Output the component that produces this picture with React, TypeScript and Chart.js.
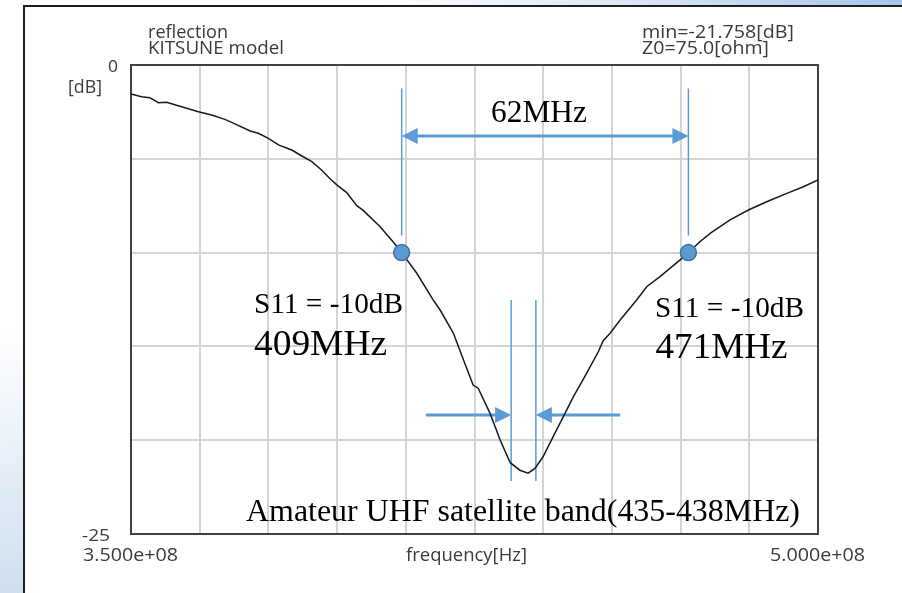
import { useEffect, useRef } from "react";
import { Chart, registerables } from "chart.js";

Chart.register(...registerables);

// ---- data (frequency in MHz, reflection S11 in dB) ----
const freqMHz = [
  350.0, 352.3, 354.1, 356.0, 357.8, 360.3, 364.7, 367.6, 370.5, 372.7,
  376.0, 377.8, 380.0, 382.2, 385.1, 387.3, 389.5, 391.6, 393.4, 395.0,
  397.1, 399.3, 400.7, 404.4, 407.3, 409.1, 412.4, 416.0, 417.5, 420.4,
  422.6, 424.7, 425.8, 428.4, 430.6, 432.8, 434.9, 436.7, 438.2, 440.0,
  442.2, 444.4, 446.6, 449.5, 452.0, 453.1, 454.6, 456.8, 460.4, 462.6,
  465.5, 469.9, 471.7, 474.2, 476.6, 480.8, 484.8, 488.8, 493.2, 496.8,
  500.0,
];
const s11dB = [
  -1.55, -1.69, -1.74, -2.01, -1.99, -2.17, -2.49, -2.67, -2.9, -3.14,
  -3.52, -3.64, -3.91, -4.26, -4.53, -4.85, -5.15, -5.6, -6.05, -6.4,
  -6.8, -7.5, -7.75, -8.62, -9.45, -10.0, -11.1, -12.53, -13.06, -14.3,
  -15.72, -17.06, -17.23, -18.57, -19.99, -21.2, -21.6, -21.758, -21.5, -20.87,
  -19.8, -18.74, -17.68, -16.43, -15.3, -14.7, -14.3, -13.59, -12.53, -11.82,
  -11.28, -10.39, -10.0, -9.42, -8.95, -8.26, -7.73, -7.29, -6.84, -6.49,
  -6.13,
];

// -10 dB crossing markers
const markerFreqMHz = [409.1, 471.7];
const markerDb = [-10, -10];

// bandwidth bracket (vertical guides + double arrow)
const bwGuideDb = [-1.25, -9.09];
const bwArrowDb = -3.78;

// satellite band guides
const bandEdgeMHz = [433.0, 438.4];
const bandGuideDb = [-12.53, -22.17];
const bandArrowDb = -18.66;
const bandArrowTailMHz = [414.4, 456.8];

// axes
const xGridMHz = [350, 365, 380, 395, 410, 425, 440, 455, 470, 485, 500];
const yGridDb = [0, -5, -10, -15, -20, -25];
const xEndLabels = ["3.500e+08", "5.000e+08"];
const yEndLabels = ["0", "-25"];
const xAxisTitle = "frequency[Hz]";
const yUnit = "[dB]";
const titleLeft = ["reflection", "KITSUNE model"];
const titleRight = ["min=-21.758[dB]", "Z0=75.0[ohm]"];
const bwLabel = "62MHz";
const leftLabels = ["S11 = -10dB", "409MHz"];
const rightLabels = ["S11 = -10dB", "471MHz"];
const bandLabel = "Amateur UHF satellite band(435-438MHz)";

const BLUE = "#5b9bd5";
const SANS = "'Open Sans'";
const SERIF = "'Liberation Serif'";

function fitText(
  ctx: CanvasRenderingContext2D,
  text: string,
  left: number,
  baseline: number,
  font: string,
  width: number,
  color: string
) {
  ctx.save();
  ctx.font = font;
  ctx.fillStyle = color;
  ctx.textAlign = "left";
  ctx.textBaseline = "alphabetic";
  const w = ctx.measureText(text).width;
  ctx.translate(left, baseline);
  ctx.scale(width / w, 1);
  ctx.fillText(text, 0, 0);
  ctx.restore();
}

function head(ctx: CanvasRenderingContext2D, tipX: number, y: number, dir: number) {
  const len = 16;
  const half = 8;
  ctx.beginPath();
  ctx.moveTo(tipX, y);
  ctx.lineTo(tipX - dir * len, y - half);
  ctx.lineTo(tipX - dir * len, y + half);
  ctx.closePath();
  ctx.fill();
}

const annotate = {
  id: "annotate",
  beforeDatasetsDraw(chart: any) {
    const { ctx, chartArea: a, scales } = chart;
    const x = scales.x;
    const y = scales.y;
    ctx.save();
    // frame
    ctx.strokeStyle = "#404040";
    ctx.lineWidth = 2;
    ctx.strokeRect(a.left, a.top, a.right - a.left, a.bottom - a.top);

    ctx.strokeStyle = BLUE;
    ctx.fillStyle = BLUE;
    // bandwidth guides
    ctx.lineWidth = 1.5;
    markerFreqMHz.forEach((f) => {
      const px = x.getPixelForValue(f * 1e6);
      ctx.beginPath();
      ctx.moveTo(px, y.getPixelForValue(bwGuideDb[0]));
      ctx.lineTo(px, y.getPixelForValue(bwGuideDb[1]));
      ctx.stroke();
    });
    // band guides
    bandEdgeMHz.forEach((f) => {
      const px = x.getPixelForValue(f * 1e6);
      ctx.beginPath();
      ctx.moveTo(px, y.getPixelForValue(bandGuideDb[0]));
      ctx.lineTo(px, y.getPixelForValue(bandGuideDb[1]));
      ctx.stroke();
    });
    // double arrow
    ctx.lineWidth = 3;
    const ay = y.getPixelForValue(bwArrowDb);
    const x1 = x.getPixelForValue(markerFreqMHz[0] * 1e6);
    const x2 = x.getPixelForValue(markerFreqMHz[1] * 1e6);
    ctx.beginPath();
    ctx.moveTo(x1 + 14, ay);
    ctx.lineTo(x2 - 14, ay);
    ctx.stroke();
    head(ctx, x1, ay, -1);
    head(ctx, x2, ay, 1);
    // band arrows
    const by = y.getPixelForValue(bandArrowDb);
    const l0 = x.getPixelForValue(bandArrowTailMHz[0] * 1e6);
    const l1 = x.getPixelForValue(bandEdgeMHz[0] * 1e6);
    ctx.beginPath();
    ctx.moveTo(l0, by);
    ctx.lineTo(l1 - 14, by);
    ctx.stroke();
    head(ctx, l1, by, 1);
    const r0 = x.getPixelForValue(bandArrowTailMHz[1] * 1e6);
    const r1 = x.getPixelForValue(bandEdgeMHz[1] * 1e6);
    ctx.beginPath();
    ctx.moveTo(r0, by);
    ctx.lineTo(r1 + 14, by);
    ctx.stroke();
    head(ctx, r1, by, -1);
    ctx.restore();
  },
  afterDatasetsDraw(chart: any) {
    const { ctx, chartArea: a, scales } = chart;
    const x = scales.x;
    const y = scales.y;
    const gray = "#3a3a3a";
    const f18 = `18px ${SANS}`;
    // header texts
    fitText(ctx, titleLeft[0], 148, 38, f18, 80, gray);
    fitText(ctx, titleLeft[1], 148, 54, f18, 136, gray);
    fitText(ctx, titleRight[0], 642, 38, f18, 152, gray);
    fitText(ctx, titleRight[1], 642, 54, f18, 127, gray);
    // y labels
    fitText(ctx, yEndLabels[0], a.left - 23, y.getPixelForValue(0) + 7, `17px ${SANS}`, 10, gray);
    fitText(ctx, yUnit, 68, 93, f18, 34, gray);
    fitText(ctx, yEndLabels[1], a.left - 49, y.getPixelForValue(-25) + 7, `17px ${SANS}`, 28, gray);
    // x labels
    const xl = x.getPixelForValue(350e6);
    const xr = x.getPixelForValue(500e6);
    fitText(ctx, xEndLabels[0], xl - 48, a.bottom + 27, f18, 95, gray);
    fitText(ctx, xEndLabels[1], xr - 48, a.bottom + 27, f18, 95, gray);
    fitText(ctx, xAxisTitle, 406, a.bottom + 27, f18, 121, gray);
    // annotations
    const black = "#000";
    fitText(ctx, bwLabel, 491, 121.5, `31px ${SERIF}`, 96, black);
    fitText(ctx, leftLabels[0], 254, 313, `29px ${SERIF}`, 149, black);
    fitText(ctx, leftLabels[1], 254, 354.5, `35px ${SERIF}`, 133, black);
    fitText(ctx, rightLabels[0], 655, 317, `29px ${SERIF}`, 149, black);
    fitText(ctx, rightLabels[1], 655.5, 358, `35px ${SERIF}`, 132, black);
    fitText(ctx, bandLabel, 246, 521, `31px ${SERIF}`, 554, black);
  },
};

export default function App() {
  const ref = useRef<HTMLCanvasElement>(null);
  useEffect(() => {
    const canvas = ref.current;
    if (!canvas) return;
    const chart = new Chart(canvas, {
      type: "line",
      data: {
        datasets: [
          {
            type: "line",
            data: freqMHz.map((f, i) => ({ x: f * 1e6, y: s11dB[i] })),
            borderColor: "#1a1a1a",
            borderWidth: 1.5,
            pointRadius: 0,
            tension: 0,
            fill: false,
            order: 2,
          },
          {
            type: "scatter",
            data: markerFreqMHz.map((f, i) => ({ x: f * 1e6, y: markerDb[i] })),
            pointRadius: 8,
            pointBackgroundColor: BLUE,
            pointBorderColor: "#41719c",
            pointBorderWidth: 1.5,
            showLine: false,
            order: 1,
          } as any,
        ],
      },
      options: {
        responsive: false,
        animation: false,
        devicePixelRatio: 1,
        events: [],
        layout: { padding: { left: 131, right: 84, top: 65, bottom: 59 } },
        plugins: { legend: { display: false }, tooltip: { enabled: false } },
        scales: {
          x: {
            type: "linear",
            min: 350e6,
            max: 500e6,
            afterBuildTicks: (s: any) => {
              s.ticks = xGridMHz.map((v) => ({ value: v * 1e6 }));
            },
            ticks: { display: false },
            grid: { color: "#d4d4d4", lineWidth: 2, drawTicks: false },
            border: { display: false },
          },
          y: {
            type: "linear",
            min: -25,
            max: 0,
            afterBuildTicks: (s: any) => {
              s.ticks = yGridDb.map((v) => ({ value: v }));
            },
            ticks: { display: false },
            grid: { color: "#d4d4d4", lineWidth: 2, drawTicks: false },
            border: { display: false },
          },
        },
      },
      plugins: [annotate],
    });
    return () => chart.destroy();
  }, []);

  return (
    <div
      style={{
        position: "fixed",
        left: 0,
        top: 0,
        width: 902,
        height: 593,
        overflow: "hidden",
        background:
          "radial-gradient(ellipse 950px 800px at 0px 0px, #ffffff 40%, #d5e3f3 70%, #9dbfe5 100%)",
      }}
    >
      <div
        style={{
          position: "absolute",
          left: 23,
          top: 5,
          right: 0,
          bottom: 0,
          background: "#ffffff",
          borderLeft: "2px solid #1f1f1f",
          borderTop: "2px solid #1f1f1f",
        }}
      />
      <canvas
        ref={ref}
        width={902}
        height={593}
        style={{ position: "absolute", left: 0, top: 0, width: 902, height: 593 }}
      />
    </div>
  );
}
